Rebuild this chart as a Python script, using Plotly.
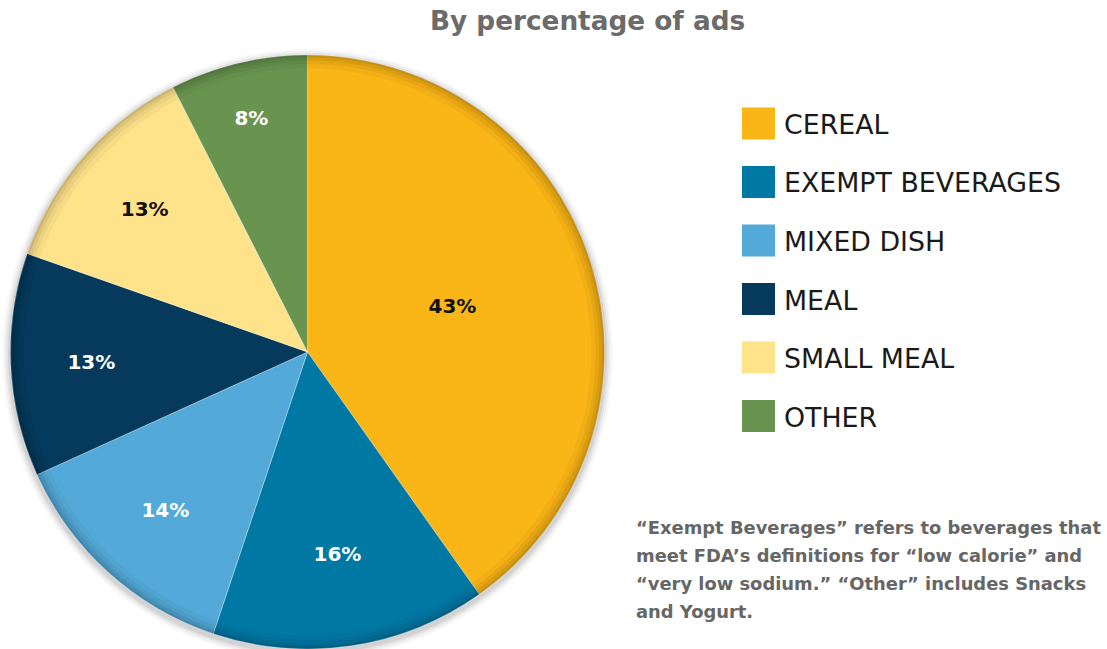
import plotly.graph_objects as go

categories = ["CEREAL", "EXEMPT BEVERAGES", "MIXED DISH", "MEAL", "SMALL MEAL", "OTHER"]
percent_values = [43, 16, 14, 13, 13, 8]
slice_colors = ["#FAB516", "#0078A4", "#53AAD8", "#053A5C", "#FFE38A", "#68944F"]
label_colors = ["#111111", "#FFFFFF", "#FFFFFF", "#FFFFFF", "#111111", "#FFFFFF"]
title_text = "By percentage of ads"
footnote_lines = [
    "\u201cExempt Beverages\u201d refers to beverages that",
    "meet FDA\u2019s definitions for \u201clow calorie\u201d and",
    "\u201cvery low sodium.\u201d \u201cOther\u201d includes Snacks",
    "and Yogurt.",
]

W, H = 1107, 649
FONT = "DejaVu Sans"
px = lambda x: x / W
py = lambda y: 1 - y / H

dom_x = [px(10), px(605)]
dom_y = [0, py(55)]

fig = go.Figure()
fig.add_trace(go.Pie(
    labels=categories,
    values=percent_values,
    sort=False,
    direction="clockwise",
    rotation=0,
    marker=dict(colors=slice_colors, line=dict(color="rgba(255,255,255,0.4)", width=0.8)),
    texttemplate="%{value}%",
    textposition="inside",
    insidetextorientation="horizontal",
    textfont=dict(color=label_colors, size=20, family=FONT, weight="bold"),
    domain=dict(x=dom_x, y=dom_y),
    showlegend=False,
    hoverinfo="label+value",
))
# soft rim shading (inner shadow)
for hole, a in [(0.955, 0.035), (0.97, 0.045), (0.982, 0.06), (0.992, 0.08)]:
    fig.add_trace(go.Pie(
        values=[1], labels=["rim"], hole=hole, sort=False,
        marker=dict(colors=[f"rgba(0,0,0,{a})"], line=dict(width=0)),
        textinfo="none", hoverinfo="skip", showlegend=False,
        domain=dict(x=dom_x, y=dom_y),
    ))

shapes = []
# soft outer shadow
cx, cy, r = 307.5, 352.5, 297.5
for d, a in [(8, 0.025), (6, 0.035), (4, 0.05), (2, 0.07)]:
    shapes.append(dict(type="circle", xref="paper", yref="paper", layer="below",
                       x0=px(cx - r - d), x1=px(cx + r + d),
                       y0=py(cy + 2 + r + d), y1=py(cy + 2 - r - d),
                       fillcolor=f"rgba(0,0,0,{a})", line=dict(width=0)))

annotations = []
leg_y0, leg_step = 123.5, 58.5
for i, (cat, col) in enumerate(zip(categories, slice_colors)):
    yc = leg_y0 + i * leg_step
    shapes.append(dict(type="rect", xref="paper", yref="paper",
                       x0=px(742), x1=px(775), y0=py(yc + 16), y1=py(yc - 16),
                       fillcolor=col, line=dict(width=0)))
    annotations.append(dict(text=cat, xref="paper", yref="paper", x=px(782), y=py(yc + 1),
                            xanchor="left", yanchor="middle", showarrow=False,
                            font=dict(size=26.8, color="#1a1a1a", family=FONT)))

annotations.append(dict(text=title_text, xref="paper", yref="paper", x=px(587), y=py(21),
                        xanchor="center", yanchor="middle", showarrow=False,
                        font=dict(size=26.3, color="#6b6b6b", family=FONT, weight="bold")))
for i, line in enumerate(footnote_lines):
    annotations.append(dict(text=line, xref="paper", yref="paper", x=px(634), y=py(527 + i * 28),
                            xanchor="left", yanchor="middle", showarrow=False,
                            font=dict(size=17.9, color="#666666", family=FONT, weight="bold")))

fig.update_layout(
    width=W, height=H,
    margin=dict(l=0, r=0, t=0, b=0),
    paper_bgcolor="white", plot_bgcolor="white",
    shapes=shapes, annotations=annotations,
)
fig.write_html("out.html", config={"displayModeBar": False},
               post_script="document.body.style.margin='0px';")
